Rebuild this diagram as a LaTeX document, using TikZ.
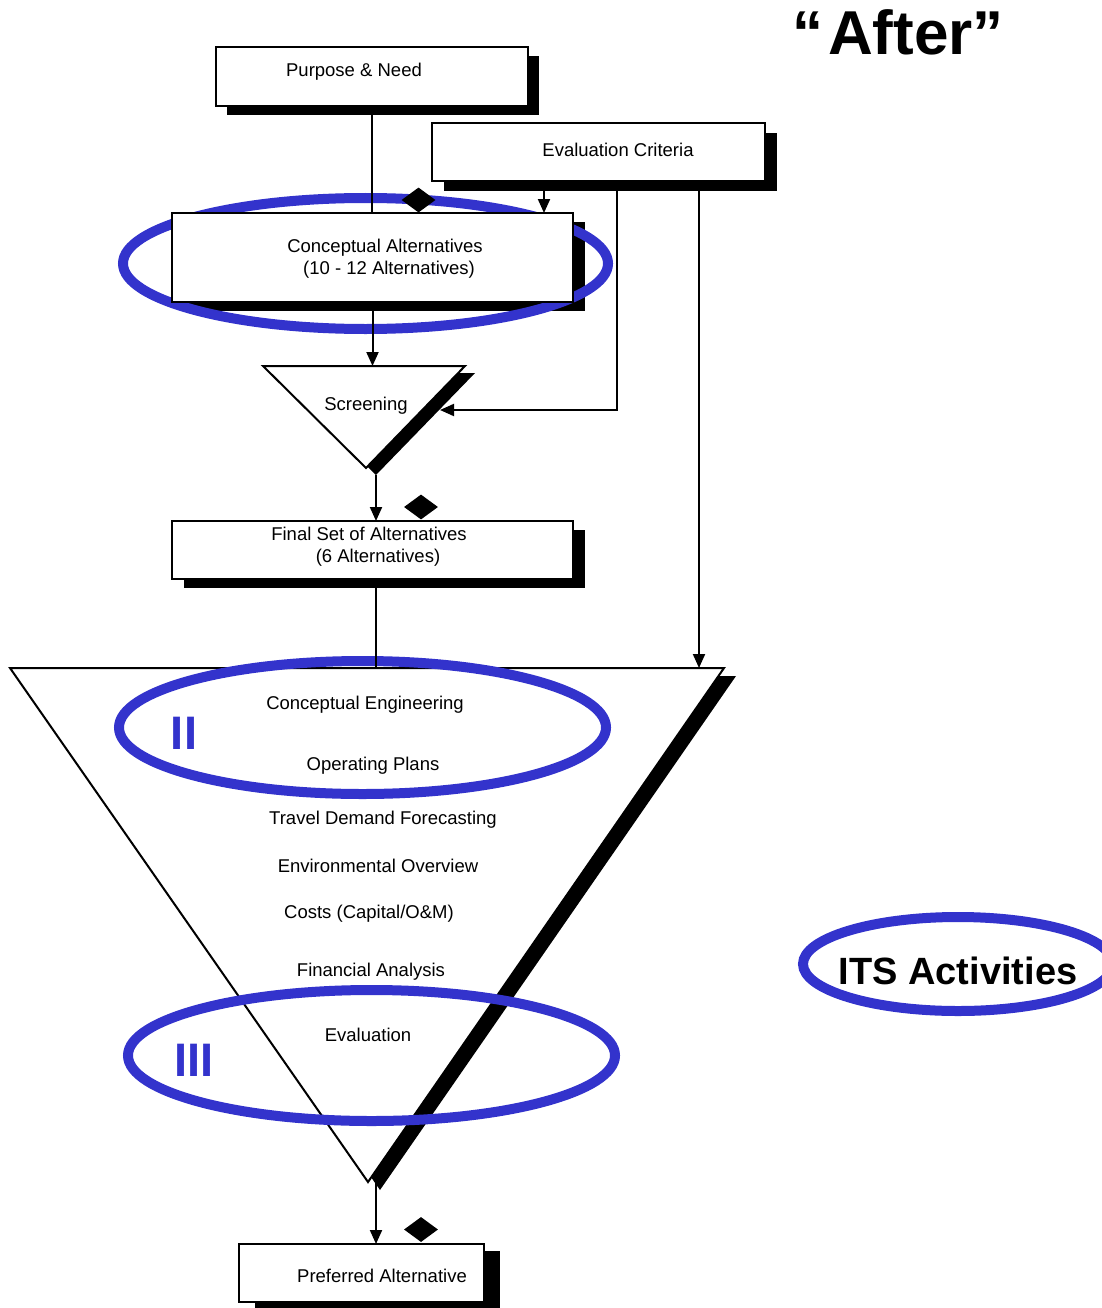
\documentclass[tikz,border=0pt]{standalone}
\usepackage{fontspec}
\setmainfont{Liberation Sans}
\usetikzlibrary{arrows.meta,shapes.geometric}
\definecolor{ovalblue}{HTML}{3333CC}
\pgfdeclarelayer{back}
\pgfdeclarelayer{ovals}
\pgfsetlayers{back,ovals,main}

\begin{document}
\begin{tikzpicture}[x=1pt,y=-1pt,
  box/.style={draw=black, line width=2pt, fill=white, inner sep=0pt, outer sep=0pt},
  lbl/.style={font=\fontsize{18.5}{22}\selectfont, inner sep=0pt, text height=13.3pt, text depth=0pt},
  roman/.style={font=\fontsize{47}{50}\selectfont\bfseries, text=ovalblue, inner sep=0pt, text height=33.7pt, text depth=0pt},
  conn/.style={line width=2pt},
  arr/.style={conn, -{Triangle[length=14pt,width=12pt]}},
  oval/.style={draw=ovalblue, line width=10pt},
  dmd/.style={diamond, fill=black, inner sep=0pt, minimum width=34pt, minimum height=25pt},
  trishadow/.style={fill=black},
  tri/.style={fill=white, draw=black, line width=2pt, line join=miter},
]
\useasboundingbox (0,0) rectangle (1101,1308);

% ---- process boxes ----
\node[box, minimum width=312pt, minimum height=59pt] (pn) at (372,76.5) {};
\node[box, minimum width=333pt, minimum height=58pt] (ec) at (598.5,152) {};
\node[box, minimum width=401pt, minimum height=89pt] (cp) at (372.5,257.5) {};
\node[box, minimum width=401pt, minimum height=58pt] (fs) at (372.5,550) {};
\node[box, minimum width=245pt, minimum height=58pt] (pa) at (361.5,1273) {};

% ---- box texts ----
\node[lbl] (tpn) at (354,70) {Purpose \& Need};
\node[lbl] (tec) at (618,150) {Evaluation Criteria};
\node[lbl] (tcp1) at (385,246) {Conceptual Alternatives};
\node[lbl] (tcp2) at (389,268) {(10 - 12 Alternatives)};
\node[lbl] (tfs1) at (369,534) {Final Set of Alternatives};
\node[lbl] (tfs2) at (378,556) {(6 Alternatives)};
\node[lbl] (tpa) at (382,1276) {Preferred Alternative};

% ---- box shadows and the large funnel ----
\coordinate (bL) at (10,668);
\coordinate (bR) at (724,668);
\coordinate (bA) at (368,1182);
\begin{pgfonlayer}{back}
  \fill[trishadow] ([shift={(12,8)}]bL) -- ([shift={(12,8)}]bR) -- ([shift={(12,8)}]bA) -- cycle;
  \filldraw[tri] (bL) -- (bR) -- (bA) -- cycle;
  \foreach \n/\dx/\dy in {pn/11/9, ec/12/10, cp/12/9, fs/12/9, pa/16/7}
    \fill ([shift={(\dx,\dy)}]\n.south west) rectangle ([shift={(\dx,\dy)}]\n.north east);
\end{pgfonlayer}

% ---- screening triangle ----
\coordinate (sL) at (263,366);
\coordinate (sR) at (465,366);
\coordinate (sA) at (366,468);
\fill[trishadow] ([shift={(10,7)}]sL) -- ([shift={(10,7)}]sR) -- ([shift={(10,7)}]sA) -- cycle;
\filldraw[tri] (sL) -- (sR) -- (sA) -- cycle;
\node[lbl] (tsc) at (366,404) {Screening};

% ---- funnel texts ----
\node[lbl] (f1) at (365,703) {Conceptual Engineering};
\node[lbl] (f2) at (373,764) {Operating Plans};
\node[lbl] (f3) at (383,818) {Travel Demand Forecasting};
\node[lbl] (f4) at (378,866) {Environmental Overview};
\node[lbl] (f5) at (369,912) {Costs (Capital/O\&M)};
\node[lbl] (f6) at (371,970) {Financial Analysis};
\node[lbl] (f7) at (368,1035) {Evaluation};

% ---- highlight ovals ----
\begin{pgfonlayer}{ovals}
  \draw[oval] (365.5,263.5) ellipse [x radius=242.5pt, y radius=65.5pt];
  \draw[oval] (362.5,727.5) ellipse [x radius=243.5pt, y radius=66.5pt];
  \draw[oval] (371.5,1055.5) ellipse [x radius=243.5pt, y radius=65.5pt];
  \draw[oval] (958,964) ellipse [x radius=155pt, y radius=47pt];
\end{pgfonlayer}
\node[roman] (rII) at (184,733) {II};
\node[roman] (rIII) at (194,1060) {III};
\node[font=\fontsize{38}{42}\selectfont\bfseries, inner sep=0pt, text height=27.2pt, text depth=0pt] (its) at (958,971) {ITS Activities};
\node[font=\fontsize{62}{66}\selectfont\bfseries, inner sep=0pt, text height=44.4pt, text depth=0pt] (after) at (898,32) {“\kern5pt After”};

% ---- connectors ----
\coordinate (ecA) at ([xshift=112pt]ec.south west);
\coordinate (ecB) at ([xshift=185pt]ec.south west);
\coordinate (ecC) at ([xshift=267pt]ec.south west);
\coordinate (sHit) at (440,410);
\coordinate (sOut) at ([shift={(10,7)}]sA);
\coordinate (fsOut) at ([xshift=3.5pt]fs.south);
\coordinate (bOut) at ([xshift=8pt]bA);

\draw[conn] (pn.south) -- (pn.south |- cp.north);
\draw[arr] (ecA) -- (ecA |- cp.north);
\draw[arr] (ecB) -- (ecB |- sHit) -- (sHit);
\draw[arr] (ecC) -- (ecC |- bR);
\draw[arr] (cp.south) -- (cp.south |- sL);
\draw[arr] (sOut) -- (sOut |- fs.north);
\draw[conn] (fsOut) -- (fsOut |- bL);
\draw[arr] (bOut) -- (bOut |- pa.north);

% ---- decision markers ----
\node[dmd] (d1) at (418.5,200) {};
\node[dmd] (d2) at (421,507) {};
\node[dmd] (d3) at (421,1229.5) {};
\end{tikzpicture}
\end{document}
